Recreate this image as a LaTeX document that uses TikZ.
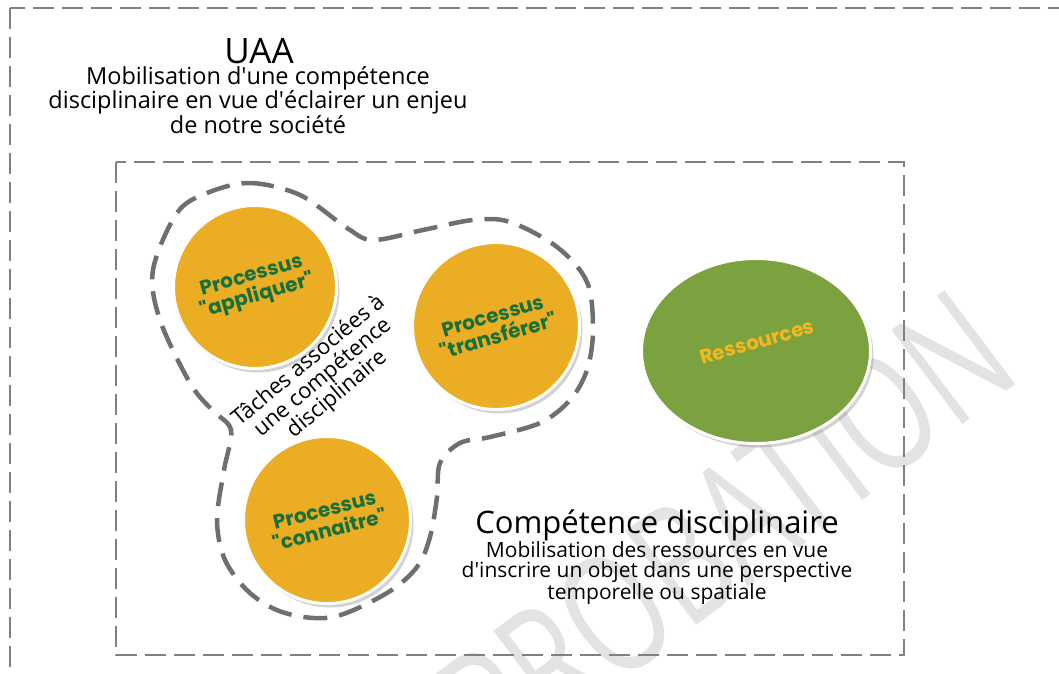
\documentclass[tikz,border=0pt]{standalone}
\usepackage{fontspec}
\setmainfont{Open Sans}
\newfontfamily\gothic{Poppins}
\usetikzlibrary{shadows,shapes.geometric}

\definecolor{cadre}{HTML}{808080}
\definecolor{contour}{HTML}{6E6E73}
\definecolor{orangeuaa}{HTML}{EAAD23}
\definecolor{vertfonce}{HTML}{17703A}
\definecolor{vertres}{HTML}{7BA23F}
\definecolor{jauneres}{HTML}{F4B71E}
\definecolor{filigrane}{HTML}{E3E3E3}

\newcommand{\apos}{\textquotesingle}

\tikzset{
  cadre/.style={draw=cadre, line width=2.6pt, dash pattern=on 21pt off 8pt},
  taches/.style={draw=contour, line width=4.5pt, dash pattern=on 24pt off 12pt},
  ombre/.style={drop shadow={shadow xshift=3pt, shadow yshift=-4pt, opacity=0.35}},
  processus/.style={circle, fill=orangeuaa, draw=white, line width=3pt, inner sep=0pt, ombre},
  proctexte/.style={text=vertfonce, align=center, font=\gothic\bfseries\fontsize{20}{21}\selectfont},
  titre/.style={font=\fontsize{#1}{#1}\selectfont},
  corps/.style={align=center, font=\fontsize{#1}{#1}\selectfont}
}

\begin{document}
\begin{tikzpicture}[x=1pt, y=-1pt]
\useasboundingbox (0,0) rectangle (1059,673);
\clip (0,0) rectangle (1059,673);

% filigrane
\node[text=filigrane, font=\fontsize{165}{165}\selectfont, inner sep=0pt,
  rotate=37, xscale=0.72, anchor=base east] (filig) at (1025,378) {APPROBATION};

% cadres
\draw[cadre] (10,8) rectangle (1080,700);
\draw[cadre] (116,162) rectangle (904,655);

% UAA
\node[titre=35] (uaa) at (259,51) {UAA};
\node[corps=23.5, font=\fontsize{23.5}{22.5}\selectfont] (uaa-def) at (258,100)
  {Mobilisation d\apos une compétence\\disciplinaire en vue d\apos éclairer un enjeu\\de notre société};

% taches associees
\draw[taches] plot[smooth cycle, tension=0.55] coordinates {
  (207,193) (250,183) (300,195) (347,228) (373,240) (423,230) (473,220)
  (510,222) (557,247) (587,282) (593,330) (587,370) (570,400) (540,423)
  (490,437) (460,443) (440,463) (437,497) (430,537) (417,567) (387,593)
  (333,617) (285,613) (250,593) (225,560) (217,520) (224,470) (231,430)
  (212,410) (190,383) (160,320) (153,270) (177,213)};

\node[processus, minimum size=163pt] (appliquer) at (255,287) {};
\node[proctexte, rotate=16] (appliquer-t) at (appliquer) {Processus\\"appliquer"};
\node[processus, minimum size=167pt] (transferer) at (496,326) {};
\node[proctexte, rotate=16] (transferer-t) at (transferer) {Processus\\"transférer"};
\node[processus, minimum size=167pt] (connaitre) at (327,520) {};
\node[proctexte, rotate=14] (connaitre-t) at (connaitre) {Processus\\"connaitre"};

\node[corps=22, rotate=40] (taches-t) at (323,378) {Tâches associées à\\une compétence\\disciplinaire};

% ressources
\node[ellipse, fill=vertres, draw=white, line width=3pt, inner sep=0pt,
  minimum width=229pt, minimum height=185pt, ombre] (ressources) at (756,351) {};
\node[text=jauneres, font=\gothic\bfseries\fontsize{20}{21}\selectfont, rotate=16] (ressources-t) at (757,342) {Ressources};

% competence disciplinaire
\node[titre=31] (cd) at (657,525) {Compétence disciplinaire};
\node[corps=21, font=\fontsize{21}{20.5}\selectfont] (cd-def) at (657,573)
  {Mobilisation des ressources en vue\\d\apos inscrire un objet dans une perspective\\temporelle ou spatiale};
\end{tikzpicture}
\end{document}
